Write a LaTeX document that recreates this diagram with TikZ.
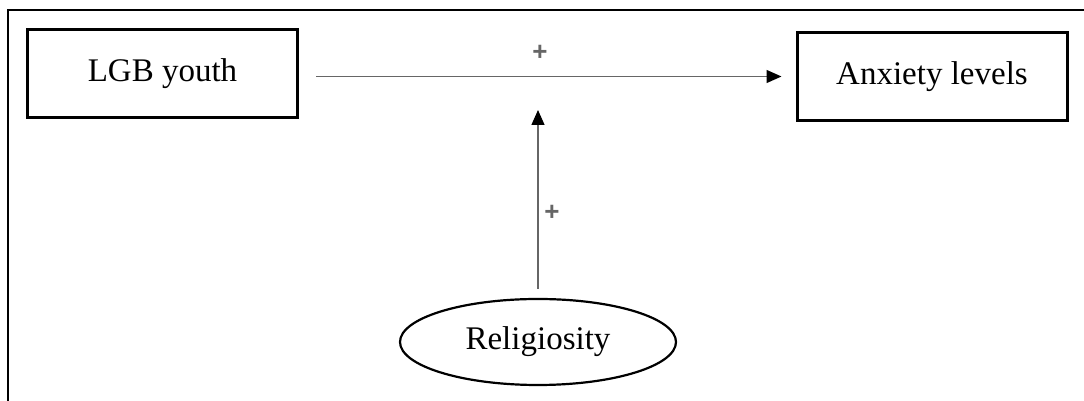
\documentclass[tikz,border=0pt]{standalone}
\usepackage{fontspec}
\setmainfont{Liberation Serif}
\newfontfamily\plusfont{Liberation Sans}
\usetikzlibrary{positioning,shapes.geometric,arrows.meta}

\begin{document}
\begin{tikzpicture}[x=0.5pt,y=0.5pt,
  varbox/.style={draw, line width=1.5pt, minimum width=135pt, minimum height=44pt,
    inner sep=0pt, font=\fontsize{16.5}{19}\selectfont},
  varoval/.style={ellipse, draw, line width=1.1pt, minimum width=138pt, minimum height=43pt,
    inner sep=0pt, font=\fontsize{16.5}{19}\selectfont},
  effect/.style={draw=black!60, line width=0.7pt,
    -{Triangle[length=7.5pt,width=6.5pt,color=black]}},
  sign/.style={text=black!60, inner sep=0pt, font=\plusfont\bfseries\fontsize{13}{15}\selectfont}]
\useasboundingbox (0,0) rectangle (1084,401);
\draw[line width=1.1pt] (8,0) -- (8,391) -- (1084,391);
\node[varbox] (lgb) at (162.5,327.5) {LGB youth};
\node[varbox] (anx) at (932,324.5) {Anxiety levels};
\node[varoval] (rel) at (538,59) {Religiosity};
\coordinate (meet) at (538,291);
\draw[effect, shorten <=8.5pt, shorten >=7pt] (lgb.east |- anx.west) -- (anx.west);
\draw[effect, shorten <=4.5pt] (rel.north) -- (meet);
\node[sign] at (540,348) {+};
\node[sign] at (552,188) {+};
\end{tikzpicture}
\end{document}
